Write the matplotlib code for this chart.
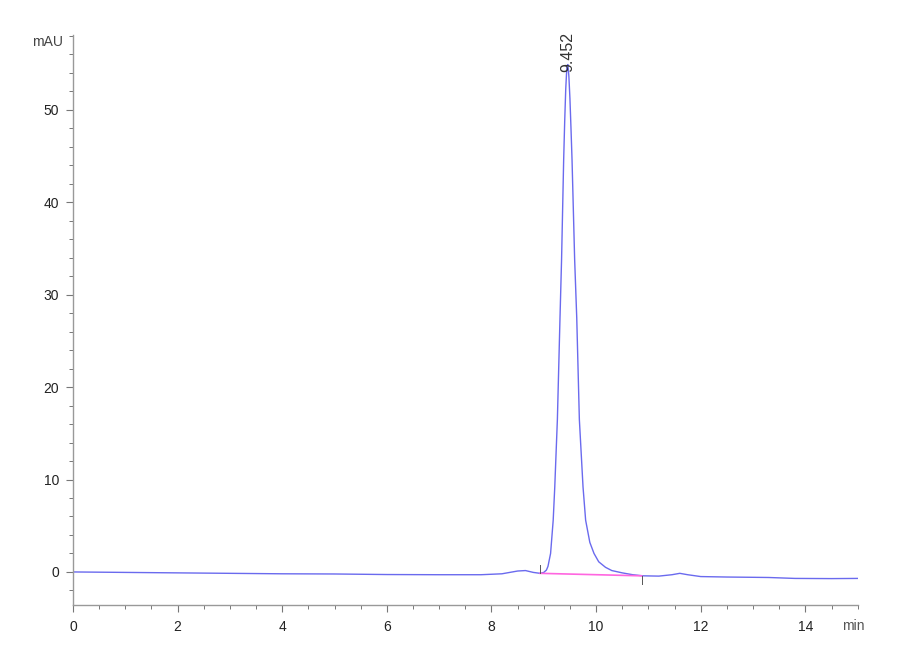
import matplotlib
matplotlib.use("Agg")
import matplotlib.pyplot as plt
from matplotlib.ticker import MultipleLocator

# chromatogram (time in min, signal in mAU)
time_min = [0.0, 1.0, 2.0, 3.0, 4.0, 5.0, 6.0, 7.0, 7.8, 8.2, 8.5, 8.65,
            8.8, 8.93, 9.0, 9.05, 9.08, 9.13, 9.18, 9.21, 9.26, 9.31, 9.34,
            9.38, 9.40, 9.42, 9.44, 9.46, 9.48, 9.50, 9.52, 9.54, 9.59, 9.63,
            9.68, 9.75, 9.80, 9.88, 9.96, 10.05, 10.18, 10.3, 10.5, 10.7,
            10.9, 11.2, 11.45, 11.6, 11.75, 12.0, 12.5, 13.0, 13.3, 13.8,
            14.5, 15.0]
signal_mau = [0.0, -0.05, -0.1, -0.15, -0.2, -0.22, -0.28, -0.3, -0.3,
              -0.2, 0.1, 0.15, -0.05, -0.15, -0.05, 0.2, 0.6, 2.0, 5.6, 9.2,
              16.5, 27.5, 33.8, 44.6, 48.8, 52.3, 54.5, 54.9, 53.6, 51.2,
              48.0, 44.6, 33.8, 27.5, 16.5, 9.2, 5.6, 3.2, 2.0, 1.1, 0.5,
              0.15, -0.1, -0.3, -0.42, -0.45, -0.3, -0.15, -0.3, -0.5, -0.55,
              -0.58, -0.6, -0.7, -0.72, -0.7]

# integration baseline and peak label
base_t = [8.93, 10.87]
base_v = [-0.15, -0.42]
peak_rt = 9.452
peak_h = 54.9

plt.rcParams['font.family'] = ['Liberation Sans', 'DejaVu Sans']

fig = plt.figure(figsize=(9, 6.6), dpi=100)
ax = fig.add_axes([0.081, 0.083, 0.872, 0.864])

ax.plot(time_min, signal_mau, color='#6a6aee', lw=1.0)
ax.plot(base_t, base_v, color='#ff66e0', lw=1.2)
# start / end markers of the integration
ax.plot([base_t[0], base_t[0]], [base_v[0], base_v[0] + 0.9], color='#555555', lw=0.7)
ax.plot([base_t[1], base_t[1]], [base_v[1], base_v[1] - 0.9], color='#555555', lw=0.7)

ax.text(peak_rt, peak_h - 0.8, f"{peak_rt:.3f}", rotation=90, ha='center', va='bottom',
        fontsize=11.5, color='#333333')

ax.set_xlim(0, 15)
ax.set_ylim(-3.6, 58.1)
ax.xaxis.set_major_locator(MultipleLocator(2))
ax.xaxis.set_minor_locator(MultipleLocator(0.5))
ax.yaxis.set_major_locator(MultipleLocator(10))
ax.yaxis.set_minor_locator(MultipleLocator(2))

for s in ['top', 'right']:
    ax.spines[s].set_visible(False)
for s in ['left', 'bottom']:
    ax.spines[s].set_color('#999999')
    ax.spines[s].set_linewidth(1.0)

ax.tick_params(which='both', direction='out', color='#777777', labelsize=10,
               labelcolor='#222222')
ax.tick_params(which='major', length=5, width=0.8)
ax.tick_params(which='minor', length=3, width=0.7)
ax.tick_params(axis='x', pad=6)
ax.tick_params(axis='y', pad=5)

ax.text(-0.012, 58.1, "mAU", transform=ax.get_yaxis_transform(), ha='right',
        va='top', fontsize=10, color='#444444')
ax.text(14.7, -5.8, "min", ha='left', va='center', fontsize=10, color='#555555')

fig.savefig("out.png", dpi=100)
